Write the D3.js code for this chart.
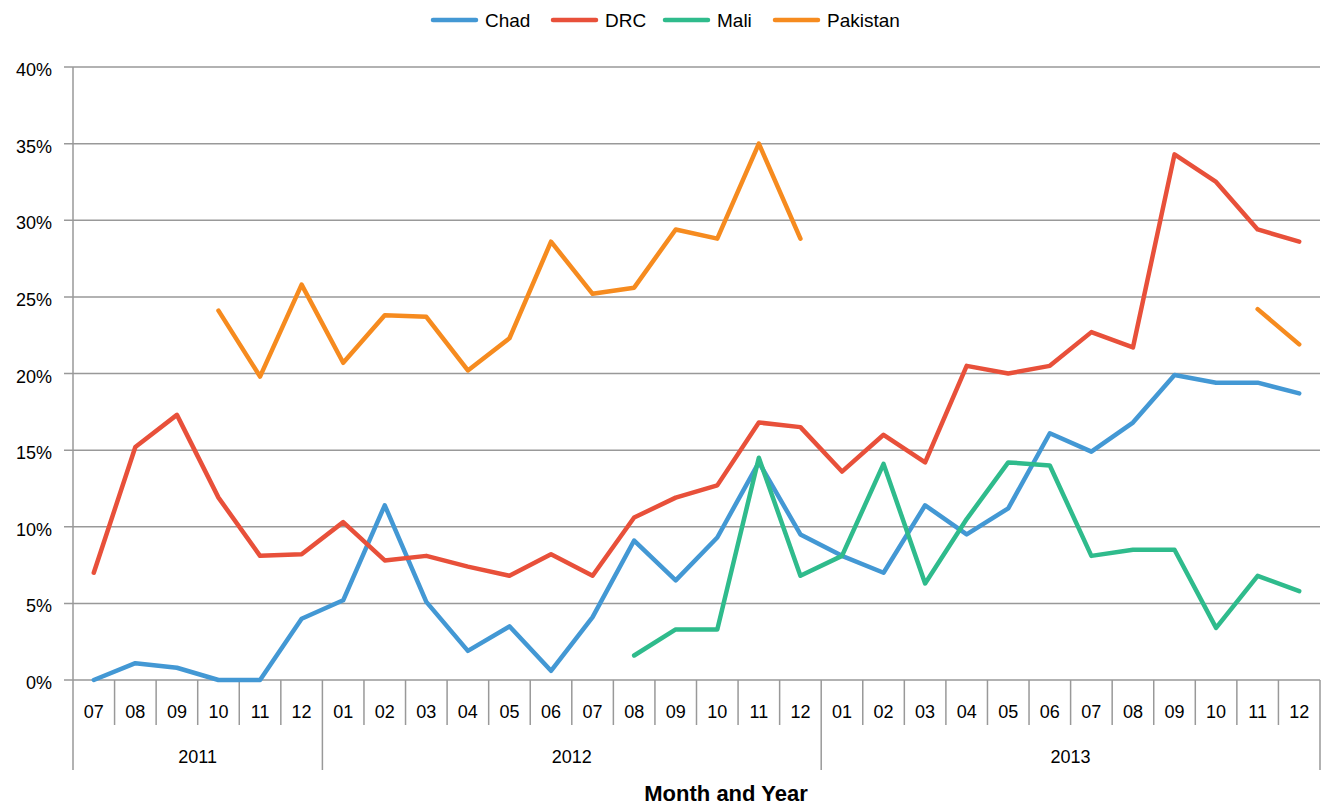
<!DOCTYPE html>
<html>
<head>
<meta charset="utf-8">
<script src="https://cdn.jsdelivr.net/npm/d3@7"></script>
<style>
  body { margin: 0; background: #fff; }
  text { font-family: "Liberation Sans", Arial, sans-serif; }
</style>
</head>
<body>
<div id="chart"></div>
<script>
// months 2011-07 .. 2013-12
const months = ["07","08","09","10","11","12",
  "01","02","03","04","05","06","07","08","09","10","11","12",
  "01","02","03","04","05","06","07","08","09","10","11","12"];
const years = [{label: "2011", start: 0, end: 6}, {label: "2012", start: 6, end: 18}, {label: "2013", start: 18, end: 30}];

const chad = [0, 1.1, 0.8, 0, 0, 4.0,
  5.2, 11.4, 5.1, 1.9, 3.5, 0.6, 4.1, 9.1, 6.5, 9.3, 14.2, 9.5,
  8.1, 7.0, 11.4, 9.5, 11.2, 16.1, 14.9, 16.8, 19.9, 19.4, 19.4, 18.7];
const drc = [7.0, 15.2, 17.3, 11.9, 8.1, 8.2,
  10.3, 7.8, 8.1, 7.4, 6.8, 8.2, 6.8, 10.6, 11.9, 12.7, 16.8, 16.5,
  13.6, 16.0, 14.2, 20.5, 20.0, 20.5, 22.7, 21.7, 34.3, 32.5, 29.4, 28.6];
const mali = [null, null, null, null, null, null,
  null, null, null, null, null, null, null, 1.6, 3.3, 3.3, 14.5, 6.8,
  8.1, 14.1, 6.3, 10.5, 14.2, 14.0, 8.1, 8.5, 8.5, 3.4, 6.8, 5.8];
const pakistan = [null, null, null, 24.1, 19.8, 25.8,
  20.7, 23.8, 23.7, 20.2, 22.3, 28.6, 25.2, 25.6, 29.4, 28.8, 35.0, 28.8,
  null, null, null, null, null, null, null, null, null, null, 24.2, 21.9];

const series = [
  {name: "Chad", values: chad, color: "#4398d4"},
  {name: "DRC", values: drc, color: "#e8503a"},
  {name: "Mali", values: mali, color: "#2fbb8c"},
  {name: "Pakistan", values: pakistan, color: "#f68b1f"}
];
const yTicks = [0, 5, 10, 15, 20, 25, 30, 35, 40];

const W = 1325, H = 805;
const plotLeft = 73, plotRight = 1320, plotTop = 67, plotBottom = 680;

const svg = d3.select("#chart").append("svg")
  .attr("width", W).attr("height", H);

const x = d3.scaleBand().domain(d3.range(months.length)).range([plotLeft, plotRight]);
const y = d3.scaleLinear().domain([0, 40]).range([plotBottom, plotTop]);
const bw = x.bandwidth();

// gridlines + y labels
svg.append("g").selectAll("line").data(yTicks).join("line")
  .attr("x1", plotLeft - 9).attr("x2", plotRight)
  .attr("y1", d => y(d)).attr("y2", d => y(d))
  .attr("stroke", "#999").attr("stroke-width", 1.5);

svg.append("g").selectAll("text").data(yTicks).join("text")
  .attr("x", 52).attr("y", d => y(d) + 9)
  .attr("text-anchor", "end")
  .attr("font-size", "18px").attr("fill", "#000")
  .text(d => d + "%");

// y axis line
svg.append("line")
  .attr("x1", plotLeft).attr("x2", plotLeft).attr("y1", plotTop).attr("y2", plotBottom)
  .attr("stroke", "#999").attr("stroke-width", 1.5);

// month separators
const yearStarts = new Set(years.map(d => d.start).concat([months.length]));
svg.append("g").selectAll("line").data(d3.range(months.length + 1)).join("line")
  .attr("x1", i => plotLeft + i * bw).attr("x2", i => plotLeft + i * bw)
  .attr("y1", plotBottom).attr("y2", i => yearStarts.has(i) ? 770 : 725)
  .attr("stroke", "#999").attr("stroke-width", 1.5);

svg.append("g").selectAll("text").data(months).join("text")
  .attr("x", (d, i) => x(i) + bw / 2).attr("y", 718)
  .attr("text-anchor", "middle")
  .attr("font-size", "18px").attr("fill", "#000")
  .text(d => d);

svg.append("g").selectAll("text").data(years).join("text")
  .attr("x", d => (x(d.start) + plotLeft + d.end * bw) / 2).attr("y", 763)
  .attr("text-anchor", "middle")
  .attr("font-size", "18px").attr("fill", "#000")
  .text(d => d.label);

svg.append("text")
  .attr("x", 726).attr("y", 801)
  .attr("text-anchor", "middle")
  .attr("font-size", "22px").attr("font-weight", "bold")
  .text("Month and Year");

// lines
const line = d3.line()
  .defined(d => d != null)
  .x((d, i) => x(i) + bw / 2)
  .y(d => y(d));

svg.append("g").selectAll("path").data(series).join("path")
  .attr("d", s => line(s.values))
  .attr("fill", "none")
  .attr("stroke", s => s.color)
  .attr("stroke-width", 4.5)
  .attr("stroke-linejoin", "round")
  .attr("stroke-linecap", "round");

// legend
const legendX = [433, 553, 665, 775];
const lg = svg.append("g").selectAll("g").data(series).join("g")
  .attr("transform", (d, i) => `translate(${legendX[i]},20)`);
lg.append("line")
  .attr("x1", 0).attr("x2", 43).attr("y1", 0).attr("y2", 0)
  .attr("stroke", d => d.color).attr("stroke-width", 4.5)
  .attr("stroke-linecap", "round");
lg.append("text")
  .attr("x", 52).attr("y", 7)
  .attr("font-size", "19px").attr("fill", "#000")
  .text(d => d.name);
</script>
</body>
</html>
